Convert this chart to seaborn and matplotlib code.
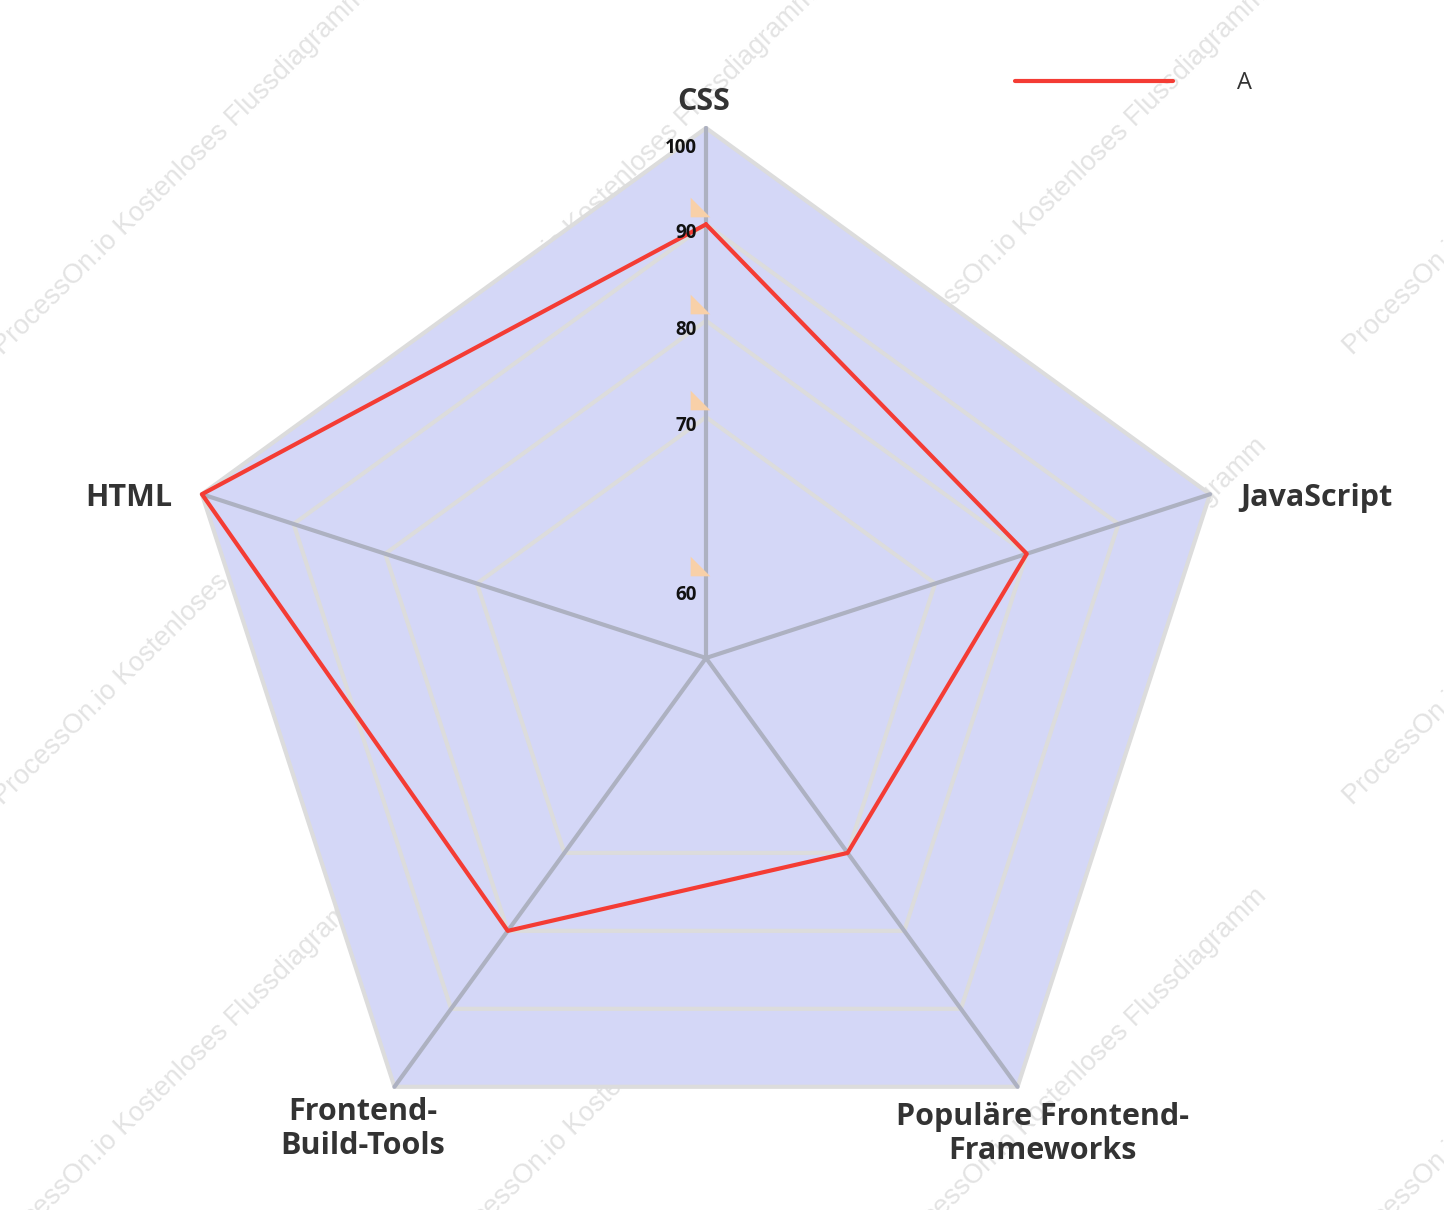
import numpy as np
import pandas as pd
import matplotlib
matplotlib.use("Agg")
import matplotlib.pyplot as plt
import seaborn as sns
from matplotlib.transforms import offset_copy

# 雷达图数据
categories = ["CSS", "JavaScript", "Populäre Frontend-\nFrameworks", "Frontend-\nBuild-Tools", "HTML"]
values_a = [90, 80, 70, 80, 100]
series_name = "A"
ring_values = [70, 80, 90, 100]
tick_labels = [60, 70, 80, 90, 100]
watermark = "ProcessOn.io Kostenloses Flussdiagramm"

sns.set_style("white")
plt.rcParams["font.family"] = ["Open Sans", "DejaVu Sans"]

r_min, r_max = 45, 100
n = len(categories)
angles = np.linspace(0, 2 * np.pi, n, endpoint=False)
angles_closed = np.append(angles, 2 * np.pi)

fig = plt.figure(figsize=(14.44, 12.10), dpi=100)
W, H = 1444, 1210

# 水印（在图形后面）
for j in range(3):
    for k in range(4):
        cx = 180 + 450 * k
        cy = 171 + 450 * j
        fig.text(cx / W, 1 - cy / H, watermark, rotation=44.5, rotation_mode="anchor",
                 ha="center", va="center", fontsize=19.5, color="#e3e3e3",
                 family=["Liberation Sans", "DejaVu Sans"], zorder=-1)

ax = fig.add_axes([176 / W, 1 - (658 + 530) / H, 1060 / W, 1060 / H], projection="polar")
ax.set_theta_offset(np.pi / 2)
ax.set_theta_direction(-1)
ax.set_ylim(r_min, r_max)
ax.set_xticks([])
ax.set_yticks([])
ax.grid(False)
ax.spines["polar"].set_visible(False)
ax.patch.set_alpha(0)

# 背景填充和网格
ax.fill(angles, [r_max] * n, color="#d4d7f7", zorder=1, clip_on=False)
for v in ring_values:
    ax.plot(angles_closed, [v] * (n + 1), color="#dcdcdc", lw=3,
            zorder=2, clip_on=False, solid_joinstyle="miter")
for a in angles:
    ax.plot([a, a], [r_min, r_max], color="#adb1c1", lw=3, zorder=3, clip_on=False)

# 数据折线
df = pd.DataFrame({"theta": angles_closed, "r": values_a + values_a[:1]})
sns.lineplot(data=df, x="theta", y="r", sort=False, estimator=None, ax=ax,
             color="#f43c34", lw=3, label=series_name, zorder=4)
for line in ax.lines[-1:]:
    line.set_clip_on(False)
ax.set_xlabel("")
ax.set_ylabel("")
ax.set_ylim(r_min, r_max)

# 刻度标签和小三角
tri = [(-1, -1), (-1, 1), (1, -1)]
for v in tick_labels:
    first = v == tick_labels[0]
    base = r_min if first else v
    if first:
        dy_lab, dy_tri = 63, 92
    elif v == r_max:
        dy_lab, dy_tri = -20, 0
    else:
        dy_lab, dy_tri = -9, 17
    ax.annotate(str(v), xy=(0, base), xytext=(-9, dy_lab), textcoords="offset pixels",
                ha="right", va="center", fontsize=13.5, fontweight="bold",
                color="#111111", zorder=6, annotation_clip=False)
    if v < r_max:
        tr = offset_copy(ax.transData, fig=fig, x=-6.5, y=dy_tri, units="dots")
        ax.scatter([0], [base], marker=tri, s=200, color="#f8d0a8", lw=0,
                   transform=tr, zorder=5, clip_on=False)

# 类别标签
label_offsets = [(-2, 26, "center"), (30, -4, "left"), (25, -47, "center"),
                 (-32, -42, "center"), (-30, -4, "right")]
for a, name, (dx, dy, ha) in zip(angles, categories, label_offsets):
    ax.annotate(name, xy=(a, r_max), xytext=(dx, dy), textcoords="offset pixels",
                ha=ha, va="center", fontsize=22, fontweight="bold", color="#333333",
                linespacing=1.15, annotation_clip=False, zorder=6)

ax.legend(loc="center left", bbox_to_anchor=(1015 / W, 1 - 83 / H),
          bbox_transform=fig.transFigure, frameon=False, borderaxespad=0,
          borderpad=0, handlelength=6.7, handletextpad=2.7, fontsize=17,
          labelcolor="#333333")

fig.savefig("out.png", dpi=100)
